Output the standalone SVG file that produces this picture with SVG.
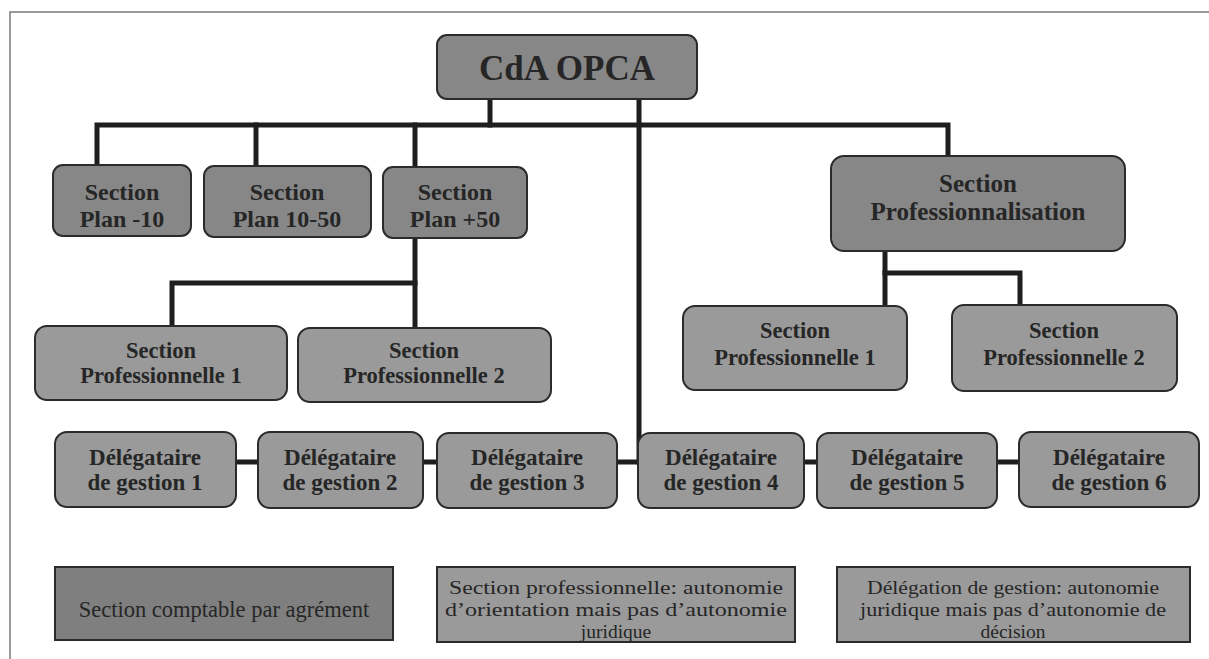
<svg xmlns="http://www.w3.org/2000/svg" width="1209" height="659" viewBox="0 0 1209 659">
<style>
.dark{fill:#878787;stroke:#2b2b2b;stroke-width:2}
.light{fill:#9a9a9a;stroke:#2b2b2b;stroke-width:2}
.t{font-family:"Liberation Serif","Times New Roman",serif;font-weight:bold;fill:#262626;text-anchor:middle}
.lg{font-family:"Liberation Serif","Times New Roman",serif;fill:#262626;text-anchor:middle;font-size:22.5px}
.lg2{font-family:"Liberation Serif","Times New Roman",serif;fill:#262626;text-anchor:middle;font-size:19.5px}
.c{stroke:#1e1e1e;stroke-width:5;fill:none;stroke-linecap:square}
</style>
<rect width="1209" height="659" fill="#ffffff"/>
<path d="M10 659 V12 H1209" fill="none" stroke="#7a7a7a" stroke-width="1.5"/>
<g id="connectors">
<path class="c" d="M490 99 V125"/>
<path class="c" d="M97 165 V125 H948 V157"/>
<path class="c" d="M256 125 V165"/>
<path class="c" d="M415 125 V167"/>
<path class="c" d="M639 99 V462"/>
<path class="c" d="M415 238 V326"/>
<path class="c" d="M172 325 V283 H415"/>
<path class="c" d="M885 251 V305"/>
<path class="c" d="M885 273 H1020 V305"/>
<path class="c" d="M236 462 H258"/>
<path class="c" d="M423 462 H437"/>
<path class="c" d="M617 462 H639"/>
<path class="c" d="M804 462 H817"/>
<path class="c" d="M997 462 H1019"/>
</g>
<g id="cda">
<rect class="dark" x="437" y="35" width="260" height="64" rx="10"/>
<text class="t" x="567" y="80" font-size="35">CdA OPCA</text>
</g>
<g id="plan-10">
<rect class="dark" x="53" y="165" width="138" height="71" rx="10"/>
<text class="t" x="122" y="200" font-size="24">Section</text>
<text class="t" x="122" y="227" font-size="24">Plan -10</text>
</g>
<g id="plan10-50">
<rect class="dark" x="204" y="166" width="167" height="71" rx="10"/>
<text class="t" x="287" y="200" font-size="24">Section</text>
<text class="t" x="287" y="227" font-size="24">Plan 10-50</text>
</g>
<g id="plan+50">
<rect class="dark" x="383" y="167" width="144" height="71" rx="10"/>
<text class="t" x="455" y="200" font-size="24">Section</text>
<text class="t" x="455" y="227" font-size="24">Plan +50</text>
</g>
<g id="professionnalisation">
<rect class="dark" x="831" y="156" width="294" height="95" rx="13"/>
<text class="t" x="978" y="192" font-size="25">Section</text>
<text class="t" x="978" y="220" font-size="25">Professionnalisation</text>
</g>
<g id="sp1-left">
<rect class="light" x="35" y="326" width="252" height="74" rx="12"/>
<text class="t" x="161" y="358" font-size="22.5">Section</text>
<text class="t" x="161" y="383" font-size="22.5">Professionnelle 1</text>
</g>
<g id="sp2-left">
<rect class="light" x="298" y="328" width="253" height="74" rx="12"/>
<text class="t" x="424" y="358" font-size="22.5">Section</text>
<text class="t" x="424" y="383" font-size="22.5">Professionnelle 2</text>
</g>
<g id="sp1-right">
<rect class="light" x="683" y="306" width="224" height="84" rx="12"/>
<text class="t" x="795" y="338" font-size="22.5">Section</text>
<text class="t" x="795" y="365" font-size="22.5">Professionnelle 1</text>
</g>
<g id="sp2-right">
<rect class="light" x="952" y="305" width="225" height="86" rx="12"/>
<text class="t" x="1064" y="338" font-size="22.5">Section</text>
<text class="t" x="1064" y="365" font-size="22.5">Professionnelle 2</text>
</g>
<g id="dg1">
<rect class="light" x="55" y="432" width="181" height="75" rx="12"/>
<text class="t" x="145" y="465" font-size="23">Délégataire</text>
<text class="t" x="145" y="490" font-size="23">de gestion 1</text>
</g>
<g id="dg2">
<rect class="light" x="258" y="432" width="165" height="76" rx="12"/>
<text class="t" x="340" y="465" font-size="23">Délégataire</text>
<text class="t" x="340" y="490" font-size="23">de gestion 2</text>
</g>
<g id="dg3">
<rect class="light" x="437" y="433" width="180" height="75" rx="12"/>
<text class="t" x="527" y="465" font-size="23">Délégataire</text>
<text class="t" x="527" y="490" font-size="23">de gestion 3</text>
</g>
<g id="dg4">
<rect class="light" x="638" y="433" width="166" height="75" rx="12"/>
<text class="t" x="721" y="465" font-size="23">Délégataire</text>
<text class="t" x="721" y="490" font-size="23">de gestion 4</text>
</g>
<g id="dg5">
<rect class="light" x="817" y="433" width="180" height="75" rx="12"/>
<text class="t" x="907" y="465" font-size="23">Délégataire</text>
<text class="t" x="907" y="490" font-size="23">de gestion 5</text>
</g>
<g id="dg6">
<rect class="light" x="1019" y="432" width="180" height="75" rx="12"/>
<text class="t" x="1109" y="465" font-size="23">Délégataire</text>
<text class="t" x="1109" y="490" font-size="23">de gestion 6</text>
</g>
<g id="legend-comptable">
<rect x="55" y="567" width="338" height="73" fill="#7f7f7f" stroke="#2b2b2b" stroke-width="2"/>
<text class="lg" x="224" y="617">Section comptable par agrément</text>
</g>
<g id="legend-professionnelle">
<rect x="437" y="567" width="358" height="75" fill="#9a9a9a" stroke="#2b2b2b" stroke-width="2"/>
<text class="lg2" x="616" y="594" textLength="334" lengthAdjust="spacingAndGlyphs">Section professionnelle: autonomie</text>
<text class="lg2" x="616" y="616" textLength="342" lengthAdjust="spacingAndGlyphs">d’orientation mais pas d’autonomie</text>
<text class="lg2" x="616" y="638">juridique</text>
</g>
<g id="legend-delegation">
<rect x="837" y="567" width="353" height="75" fill="#9a9a9a" stroke="#2b2b2b" stroke-width="2"/>
<text class="lg2" x="1013" y="594" textLength="292" lengthAdjust="spacingAndGlyphs">Délégation de gestion: autonomie</text>
<text class="lg2" x="1013" y="616" textLength="306" lengthAdjust="spacingAndGlyphs">juridique mais pas d’autonomie de</text>
<text class="lg2" x="1013" y="638">décision</text>
</g>
</svg>
